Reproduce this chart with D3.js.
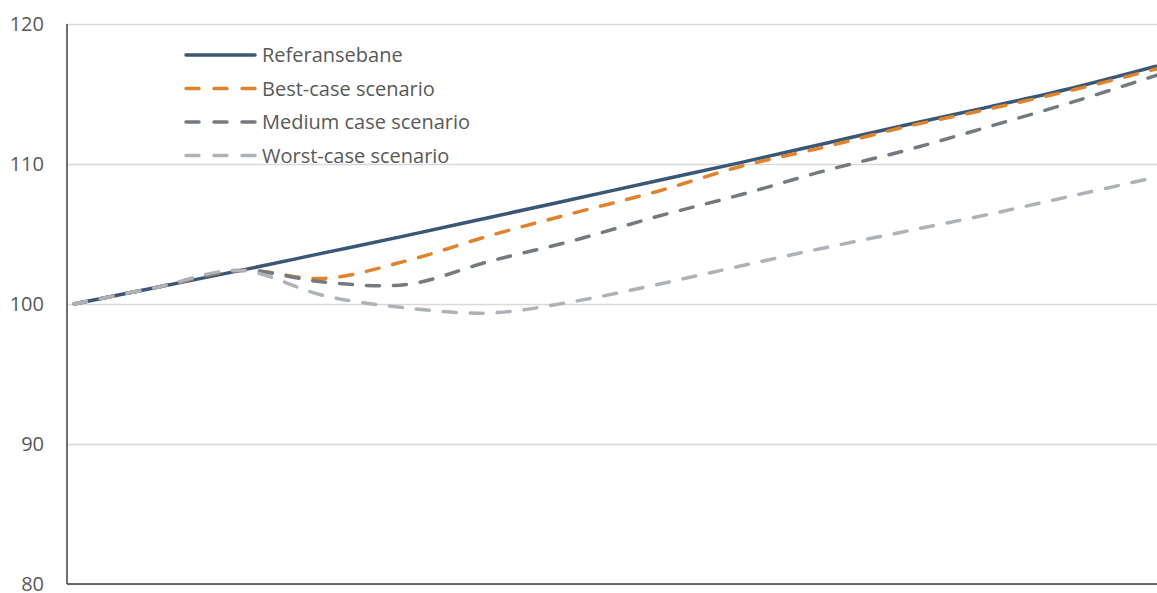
<!DOCTYPE html>
<html>
<head>
<meta charset="utf-8">
<script src="https://cdn.jsdelivr.net/npm/d3@7"></script>
<style>
  html, body { margin: 0; padding: 0; background: #ffffff; }
  svg { display: block; }
  text { font-family: "Open Sans", sans-serif; }
</style>
</head>
<body>
<svg id="chart" width="1157" height="593"></svg>
<script>
// ---- data ----
const periods = ["0", "1", "2", "3", "4", "5", "6", "7", "8", "9", "10", "11", "12", "13"];
const referansebane = [100.0, 101.2, 102.4, 103.65, 104.9, 106.2, 107.5, 108.8, 110.1, 111.45, 112.8, 114.1, 115.45, 117.0];
const bestCase      = [100.0, 101.2, 102.4, 101.83, 103.1, 104.9, 106.5, 108.04, 109.82, 111.2, 112.68, 113.95, 115.3, 116.8];
const mediumCase    = [100.0, 101.2, 102.4, 101.57, 101.4, 103.07, 104.54, 106.25, 107.8, 109.5, 111.0, 112.7, 114.45, 116.35];
const worstCase     = [100.0, 101.2, 102.4, 100.6, 99.71, 99.36, 100.18, 101.39, 102.71, 104.0, 105.21, 106.43, 107.75, 109.07];
const yTicks = [80, 90, 100, 110, 120];
const seriesNames = ["Referansebane", "Best-case scenario", "Medium case scenario", "Worst-case scenario"];

// ---- layout ----
const svg = d3.select("#chart");
const plot = { left: 67, right: 1157, top: 24, bottom: 584 };

const x = d3.scalePoint().domain(periods).range([74, 1157]).padding(0);
const y = d3.scaleLinear().domain([80, 120]).range([plot.bottom, plot.top]);

const series = [
  { name: seriesNames[0], values: referansebane, color: "#3a5776", dash: null },
  { name: seriesNames[1], values: bestCase,      color: "#e0832b", dash: "13,14" },
  { name: seriesNames[2], values: mediumCase,    color: "#737a82", dash: "13,14" },
  { name: seriesNames[3], values: worstCase,     color: "#adb2b8", dash: "13,14" }
];

// gridlines + tick labels
const yAxis = d3.axisLeft(y).tickValues(yTicks).tickSize(-(plot.right - plot.left)).tickPadding(23).tickFormat(d3.format("d"));
const gAxis = svg.append("g").attr("transform", `translate(${plot.left},0)`).call(yAxis);
gAxis.select(".domain").remove();
gAxis.selectAll(".tick line").attr("stroke", "#d9d9d9").attr("stroke-width", 1.5);
gAxis.selectAll(".tick text").attr("fill", "#595959").style("font-size", "20px").attr("font-family", "'Open Sans', sans-serif");

// axis lines
svg.append("line").attr("x1", plot.left).attr("x2", plot.left).attr("y1", plot.top).attr("y2", plot.bottom)
  .attr("stroke", "#404040").attr("stroke-width", 1.5);
svg.append("line").attr("x1", plot.left).attr("x2", plot.right).attr("y1", plot.bottom).attr("y2", plot.bottom)
  .attr("stroke", "#404040").attr("stroke-width", 1.5);

// lines
const line = d3.line()
  .x((d, i) => x(periods[i]))
  .y(d => y(d))
  .curve(d3.curveCatmullRom.alpha(0));

series.forEach(s => {
  svg.append("path")
    .datum(s.values)
    .attr("d", line)
    .attr("fill", "none")
    .attr("stroke", s.color)
    .attr("stroke-width", 3.5)
    .attr("stroke-linecap", s.dash ? "round" : "butt")
    .attr("stroke-linejoin", "round")
    .attr("stroke-dasharray", s.dash);
});

// legend
const legend = svg.append("g");
series.forEach((s, i) => {
  const ly = 55 + i * 33.5;
  legend.append("line")
    .attr("x1", 186).attr("x2", 255).attr("y1", ly).attr("y2", ly)
    .attr("stroke", s.color).attr("stroke-width", 3.5)
    .attr("stroke-linecap", "round")
    .attr("stroke-dasharray", s.dash ? "13,15" : null);
  legend.append("text")
    .attr("x", 262).attr("y", ly).attr("dy", "0.35em")
    .attr("fill", "#595959").style("font-size", "20px")
    .text(s.name);
});
</script>
</body>
</html>
